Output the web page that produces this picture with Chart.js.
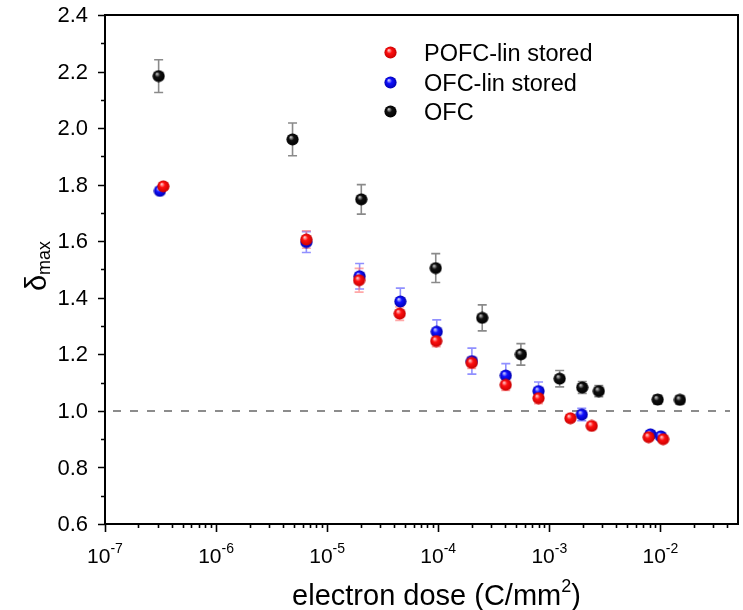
<!DOCTYPE html>
<html><head><meta charset="utf-8">
<script src="https://cdn.jsdelivr.net/npm/chart.js@4/dist/chart.umd.min.js"></script>
<style>html,body{margin:0;padding:0;background:#fff}#wrap{width:743px;height:610px;position:relative}</style>
</head><body><div id="wrap"><canvas id="c"></canvas></div>
<script>
// Maximum secondary electron yield vs. accumulated electron dose
const seriesNames = ['POFC-lin stored', 'OFC-lin stored', 'OFC'];

const pofcDose  = [3.35e-7, 6.5e-6, 1.94e-5, 4.5e-5, 9.6e-5, 2.0e-4, 4.05e-4, 8.0e-4, 1.55e-3, 2.41e-3, 7.85e-3, 1.06e-2];
const pofcDelta = [1.794, 1.606, 1.462, 1.344, 1.247, 1.170, 1.092, 1.045, 0.974, 0.947, 0.907, 0.900];
const pofcErr   = [0.008, 0.031, 0.042, 0.024, 0.020, 0.020, 0.020, 0.020, 0.010, 0.010, 0.010, 0.010];

const ofcLinDose  = [3.12e-7, 6.5e-6, 1.96e-5, 4.56e-5, 9.7e-5, 2.01e-4, 4.06e-4, 8.0e-4, 1.96e-3, 8.13e-3, 1.01e-2];
const ofcLinDelta = [1.778, 1.597, 1.476, 1.387, 1.280, 1.176, 1.125, 1.070, 0.987, 0.917, 0.910];
const ofcLinErr   = [0.008, 0.037, 0.045, 0.047, 0.042, 0.046, 0.042, 0.032, 0.022, 0.010, 0.010];

const ofcDose  = [3.04e-7, 4.88e-6, 2.03e-5, 9.5e-5, 2.49e-4, 5.55e-4, 1.24e-3, 1.98e-3, 2.79e-3, 9.46e-3, 1.50e-2];
const ofcDelta = [2.184, 1.960, 1.748, 1.505, 1.329, 1.200, 1.114, 1.083, 1.070, 1.040, 1.039];
const ofcErr   = [0.058, 0.058, 0.052, 0.051, 0.046, 0.038, 0.029, 0.021, 0.020, 0.016, 0.015];

const yTickValues = [0.6, 0.8, 1.0, 1.2, 1.4, 1.6, 1.8, 2.0, 2.2, 2.4];
const xDecades = [-7, -6, -5, -4, -3, -2];
const xMin = 1e-7, xMax = 5e-2, yMin = 0.6, yMax = 2.4;
const unityLevel = 1.0;

const FONT = '"Liberation Sans", Arial, sans-serif';

// shaded ball sprite used as point marker
function ball(light, base, dark, r) {
  const s = 13;
  const c = document.createElement('canvas');
  c.width = c.height = s;
  const g = c.getContext('2d');
  const cx = s / 2, cy = s / 2;
  const grad = g.createRadialGradient(cx - r * 0.3, cy - r * 0.4, r * 0.05, cx, cy, r);
  grad.addColorStop(0, light);
  grad.addColorStop(0.4, base);
  grad.addColorStop(1, dark);
  g.fillStyle = grad;
  g.beginPath(); g.arc(cx, cy, r, 0, Math.PI * 2); g.fill();
  return c;
}
const redBall = ball('#ffd0d0', '#ff1010', '#c80000', 6.1);
const blueBall = ball('#d0d0ff', '#1010ff', '#0000b0', 6.1);
const blackBall = ball('#c8c8c8', '#101010', '#000000', 6.1);

function pts(xs, ys) { return xs.map((x, i) => ({ x, y: ys[i] })); }

const seriesStyle = [
  { sprite: redBall, err: pofcErr, errColor: 'rgba(255,110,110,0.6)' },
  { sprite: blueBall, err: ofcLinErr, errColor: 'rgba(70,70,255,0.6)' },
  { sprite: blackBall, err: ofcErr, errColor: '#8a8a8a' }
];

// error bars drawn beneath the markers
const errorBars = {
  id: 'errorBars',
  beforeDatasetsDraw(chart) {
    const ctx = chart.ctx, ys = chart.scales.y;
    ctx.save();
    for (let i = chart.data.datasets.length - 1; i >= 0; i--) {
      const meta = chart.getDatasetMeta(i);
      const ds = chart.data.datasets[i];
      const st = seriesStyle[i];
      ctx.strokeStyle = st.errColor;
      ctx.lineWidth = 1.6;
      meta.data.forEach((el, j) => {
        const e = st.err[j];
        const v = ds.data[j].y;
        const t = ys.getPixelForValue(v + e), b = ys.getPixelForValue(v - e);
        const x = el.x;
        ctx.beginPath();
        ctx.moveTo(x, t); ctx.lineTo(x, b);
        ctx.moveTo(x - 4.5, t); ctx.lineTo(x + 4.5, t);
        ctx.moveTo(x - 4.5, b); ctx.lineTo(x + 4.5, b);
        ctx.stroke();
      });
    }
    ctx.restore();
  }
};

// frame, ticks, labels, reference line and legend
const decor = {
  id: 'decor',
  beforeDatasetsDraw(chart) {
    const ctx = chart.ctx, a = chart.chartArea, ys = chart.scales.y;
    const yy = ys.getPixelForValue(unityLevel);
    ctx.save();
    ctx.strokeStyle = '#8c8c8c';
    ctx.lineWidth = 2;
    ctx.setLineDash([8, 9]);
    ctx.beginPath(); ctx.moveTo(a.left + 8, yy); ctx.lineTo(a.right - 8, yy); ctx.stroke();
    ctx.restore();
  },
  afterDraw(chart) {
    const ctx = chart.ctx, a = chart.chartArea, xs = chart.scales.x, ys = chart.scales.y;
    ctx.save();
    // frame
    ctx.strokeStyle = '#000';
    ctx.lineWidth = 2;
    ctx.strokeRect(a.left, a.top, a.right - a.left, a.bottom - a.top);

    // y ticks
    ctx.lineWidth = 1.6;
    ctx.beginPath();
    for (let v = yMin; v <= yMax + 1e-9; v += 0.1) {
      const p = Math.round(ys.getPixelForValue(v)) + 0.5;
      const major = Math.abs(Math.round(v * 10) % 2) === 0;
      ctx.moveTo(a.left, p); ctx.lineTo(a.left - (major ? 7 : 4), p);
    }
    ctx.stroke();
    ctx.fillStyle = '#000';
    ctx.font = '22px ' + FONT;
    ctx.textAlign = 'right';
    ctx.textBaseline = 'middle';
    yTickValues.forEach(v => ctx.fillText(v.toFixed(1), a.left - 17, ys.getPixelForValue(v) + 1));

    // x ticks
    ctx.beginPath();
    xDecades.forEach(d => {
      for (let k = 1; k <= 9; k++) {
        const v = k * Math.pow(10, d);
        if (v > xMax * 0.999) break;
        const p = Math.round(xs.getPixelForValue(v)) + 0.5;
        ctx.moveTo(p, a.bottom); ctx.lineTo(p, a.bottom + (k === 1 ? 8 : 4));
      }
    });
    ctx.stroke();
    xDecades.forEach(d => {
      const p = xs.getPixelForValue(Math.pow(10, d));
      ctx.font = '21px ' + FONT;
      const wb = ctx.measureText('10').width;
      ctx.font = '14px ' + FONT;
      const sup = String(d);
      const we = ctx.measureText(sup).width;
      const x0 = p - (wb + we) / 2;
      ctx.textAlign = 'left';
      ctx.textBaseline = 'alphabetic';
      ctx.font = '21px ' + FONT;
      ctx.fillText('10', x0, 563);
      ctx.font = '14px ' + FONT;
      ctx.fillText(sup, x0 + wb, 553);
    });

    // x title
    ctx.textBaseline = 'alphabetic';
    const t1 = 'electron dose (C/mm', t2 = '2', t3 = ')';
    const big = '29px ' + FONT, small = '18px ' + FONT;
    ctx.font = big; const w1 = ctx.measureText(t1).width, w3 = ctx.measureText(t3).width;
    ctx.font = small; const w2 = ctx.measureText(t2).width;
    let x = 436.5 - (w1 + w2 + w3) / 2;
    ctx.font = big; ctx.fillText(t1, x, 605); x += w1;
    ctx.font = small; ctx.fillText(t2, x, 592); x += w2;
    ctx.font = big; ctx.fillText(t3, x, 605);

    // y title (rotated)
    ctx.save();
    ctx.translate(46, 0);
    ctx.rotate(-Math.PI / 2);
    ctx.font = '29px ' + FONT; const wd = ctx.measureText('\u03b4').width;
    ctx.font = '18px ' + FONT; const wm = ctx.measureText('max').width;
    let yx = -266 - (wd + wm) / 2;
    ctx.font = '29px ' + FONT; ctx.fillText('\u03b4', yx, 0); yx += wd;
    ctx.font = '18px ' + FONT; ctx.fillText('max', yx, 4);
    ctx.restore();

    // legend
    const sprites = [redBall, blueBall, blackBall];
    ctx.font = '23.5px ' + FONT;
    ctx.textAlign = 'left';
    ctx.textBaseline = 'alphabetic';
    seriesNames.forEach((n, i) => {
      const cy = 52.7 + i * 29.3;
      const s = sprites[i];
      ctx.drawImage(s, Math.round(390 - s.width / 2), Math.round(cy - s.height / 2));
      ctx.fillText(n, 424, cy + 8.5);
    });
    ctx.restore();
  }
};

new Chart(document.getElementById('c'), {
  type: 'scatter',
  data: {
    datasets: [
      { label: seriesNames[0], data: pts(pofcDose, pofcDelta), pointStyle: redBall },
      { label: seriesNames[1], data: pts(ofcLinDose, ofcLinDelta), pointStyle: blueBall },
      { label: seriesNames[2], data: pts(ofcDose, ofcDelta), pointStyle: blackBall }
    ]
  },
  options: {
    responsive: true,
    maintainAspectRatio: false,
    animation: false,
    devicePixelRatio: 1,
    layout: { padding: { left: 105, top: 15, right: 5, bottom: 86 } },
    plugins: { legend: { display: false }, tooltip: { enabled: false } },
    scales: {
      x: { type: 'logarithmic', min: xMin, max: xMax, display: false },
      y: { type: 'linear', min: yMin, max: yMax, display: false }
    }
  },
  plugins: [decor, errorBars]
});
</script>
</body></html>
